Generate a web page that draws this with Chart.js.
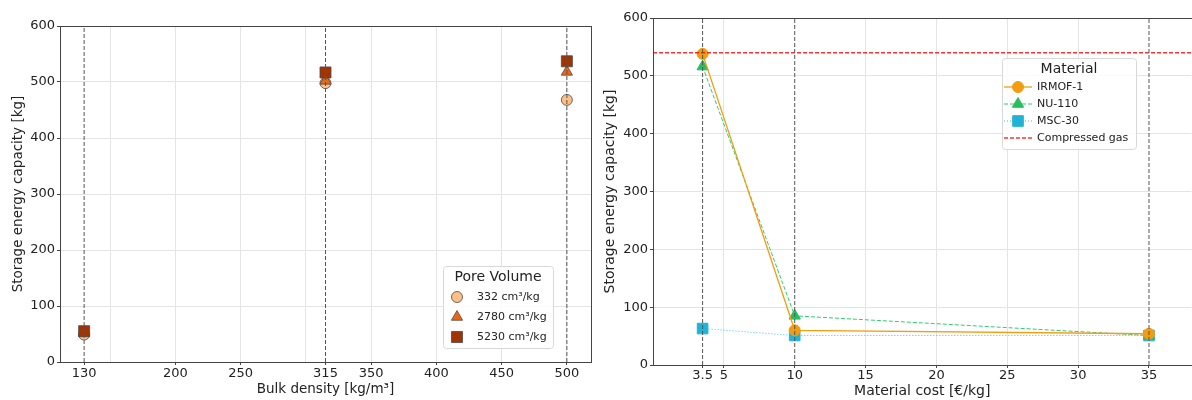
<!DOCTYPE html>
<html lang="en">
<head>
  <meta charset="UTF-8">
  <title>Storage energy capacity</title>
  <style>
    body {
      margin: 0;
      background: #ffffff;
      overflow: hidden;
      width: 1192px;
      height: 400px;
      position: relative;
    }
    canvas {
      position: absolute;
      top: 0;
    }
    #density-chart { left: 0; }
    #cost-chart { left: 596px; }
  </style>
</head>
<body>
  <canvas id="density-chart" width="600" height="400"></canvas>
  <canvas id="cost-chart" width="604" height="400"></canvas>
  <script src="https://cdn.jsdelivr.net/npm/chart.js"></script>
  <script>
    // left panel: capacity vs bulk density
    const bulkDensity = [130, 315, 500];
    const densityTicks = [130, 150, 200, 250, 300, 315, 350, 400, 450, 500];
    const hiddenDensityLabels = [150, 300];
    const poreVolumeLabels = ["332 cm³/kg", "2780 cm³/kg", "5230 cm³/kg"];
    const pv332 = [49, 498, 468];
    const pv2780 = [52, 502, 518];
    const pv5230 = [55, 517, 537];

    // right panel: capacity vs material cost
    const materialCost = [3.5, 10, 35];
    const costTicks = [3.5, 5, 10, 15, 20, 25, 30, 35];
    const irmof1 = [538, 60, 54];
    const nu110 = [516, 85, 51];
    const msc30 = [63, 51, 51];
    const compressedGas = 540;

    const capacityTicks = [0, 100, 200, 300, 400, 500, 600];

    const FONT = "'DejaVu Sans', sans-serif";
    const GRID = "#e4e4e4";
    const TEXT = "#222222";

    const toPoints = (xs, ys) => xs.map((x, i) => ({ x: x, y: ys[i] }));

    function vline(x) {
      return {
        type: "line",
        data: [{ x: x, y: 0 }, { x: x, y: 600 }],
        borderColor: "#555555",
        borderWidth: 1,
        borderDash: [4, 2],
        pointRadius: 0,
        order: 0,
      };
    }

    // axes frame (all four spines)
    const frame = {
      id: "frame",
      afterDatasetsDraw(chart) {
        const a = chart.chartArea;
        const ctx = chart.ctx;
        ctx.save();
        ctx.strokeStyle = "#444444";
        ctx.lineWidth = 1;
        ctx.strokeRect(Math.round(a.left) + 0.5, Math.round(a.top) + 0.5,
          Math.round(a.right - a.left), Math.round(a.bottom - a.top));
        ctx.restore();
      },
    };

    // matplotlib-like legend box with a title
    const legendBox = {
      id: "legendBox",
      afterDraw(chart, args, opts) {
        const ctx = chart.ctx;
        const items = chart.data.datasets.filter(d => d.legendLabel);
        ctx.save();
        ctx.beginPath();
        ctx.roundRect(opts.x + 0.5, opts.y + 0.5, opts.w, opts.h, 3);
        ctx.fillStyle = "rgba(255,255,255,0.85)";
        ctx.fill();
        ctx.strokeStyle = "#d8d8d8";
        ctx.lineWidth = 1;
        ctx.stroke();

        ctx.fillStyle = TEXT;
        ctx.textAlign = "center";
        ctx.textBaseline = "middle";
        ctx.font = "14px " + FONT;
        ctx.fillText(opts.title, opts.x + opts.w / 2, opts.y + opts.titleY);

        ctx.font = "11px " + FONT;
        items.forEach((d, i) => {
          const y = opts.y + opts.firstRow + i * opts.rowGap;
          const cx = opts.x + opts.markerX;
          if (opts.lines) {
            ctx.save();
            ctx.strokeStyle = d.borderColor;
            ctx.lineWidth = d.borderWidth;
            ctx.setLineDash(d.borderDash || []);
            ctx.beginPath();
            ctx.moveTo(cx - 14, y);
            ctx.lineTo(cx + 14, y);
            ctx.stroke();
            ctx.restore();
          }
          if (d.pointRadius) {
            ctx.fillStyle = d.pointBackgroundColor;
            ctx.strokeStyle = d.pointBorderColor;
            ctx.lineWidth = d.pointBorderWidth;
            ctx.setLineDash([]);
            Chart.helpers.drawPoint(ctx, {
              pointStyle: d.pointStyle,
              radius: d.legendRadius || d.pointRadius,
              borderWidth: d.pointBorderWidth,
              rotation: 0,
            }, cx, y);
          }
          ctx.fillStyle = TEXT;
          ctx.textAlign = "left";
          ctx.fillText(d.legendLabel, opts.x + opts.textX, y);
        });
        ctx.restore();
      },
    };

    function yAxis(width, titlePad, titleSize) {
      return {
        min: 0,
        max: 600,
        afterBuildTicks: s => { s.ticks = capacityTicks.map(v => ({ value: v })); },
        afterFit: s => { s.width = width; },
        grid: { color: GRID, tickColor: "#444444", tickLength: 3 },
        border: { display: false },
        ticks: { color: TEXT, font: { family: FONT, size: 13 }, padding: 2 },
        title: {
          display: true,
          text: "Storage energy capacity [kg]",
          color: TEXT,
          font: { family: FONT, size: titleSize },
          padding: { top: titlePad, bottom: 0 },
        },
      };
    }

    // ---------- left chart ----------
    const pointBase = { type: "scatter", pointBorderColor: "#4a4a4a", pointBorderWidth: 0.8, order: 1 };

    new Chart(document.getElementById("density-chart").getContext("2d"), {
      type: "scatter",
      data: {
        datasets: [
          vline(bulkDensity[0]),
          vline(bulkDensity[1]),
          vline(bulkDensity[2]),
          Object.assign({}, pointBase, {
            data: toPoints(bulkDensity, pv332),
            legendLabel: poreVolumeLabels[0],
            pointStyle: "circle",
            pointRadius: 5.5,
            pointBackgroundColor: "#fdbf86",
            order: 3,
          }),
          Object.assign({}, pointBase, {
            data: toPoints(bulkDensity, pv2780),
            legendLabel: poreVolumeLabels[1],
            pointStyle: "triangle",
            pointRadius: 6.5,
            pointBackgroundColor: "#ee6511",
            order: 2,
          }),
          Object.assign({}, pointBase, {
            data: toPoints(bulkDensity, pv5230),
            legendLabel: poreVolumeLabels[2],
            pointStyle: "rect",
            pointRadius: 7.8,
            pointBackgroundColor: "#a23403",
            order: 1,
          }),
        ],
      },
      options: {
        responsive: false,
        animation: false,
        events: [],
        layout: { padding: { top: 26, right: 9, bottom: 0, left: 0 } },
        scales: {
          x: {
            type: "linear",
            min: 111.5,
            max: 518.5,
            afterBuildTicks: s => { s.ticks = densityTicks.map(v => ({ value: v })); },
            afterFit: s => { s.height = 38; },
            grid: {
              color: c => (c.tick && (c.tick.value === 130 || c.tick.value === 315)) ? "rgba(0,0,0,0)" : GRID,
              tickColor: c => (c.tick && hiddenDensityLabels.includes(c.tick.value)) ? "rgba(0,0,0,0)" : "#444444",
              tickLength: 3,
            },
            border: { display: false },
            ticks: {
              color: TEXT,
              font: { family: FONT, size: 13 },
              padding: 1,
              maxRotation: 0,
              autoSkip: false,
              callback: v => hiddenDensityLabels.includes(v) ? "" : String(v),
            },
            title: {
              display: true,
              text: "Bulk density [kg/m³]",
              color: TEXT,
              font: { family: FONT, size: 13.5 },
              padding: { top: 0, bottom: 2 },
            },
          },
          y: yAxis(60, 10, 13.5),
        },
        plugins: {
          legend: { display: false },
          tooltip: { enabled: false },
          legendBox: {
            x: 443, y: 266, w: 110, h: 82,
            title: "Pore Volume", titleY: 11,
            firstRow: 31, rowGap: 20,
            markerX: 14, textX: 34, lines: false,
          },
        },
      },
      plugins: [frame, legendBox],
    });

    // ---------- right chart ----------
    new Chart(document.getElementById("cost-chart").getContext("2d"), {
      type: "scatter",
      data: {
        datasets: [
          vline(materialCost[0]),
          vline(materialCost[1]),
          vline(materialCost[2]),
          {
            type: "line",
            data: toPoints(materialCost, irmof1),
            legendLabel: "IRMOF-1",
            borderColor: "#f39c12",
            borderWidth: 1.3,
            pointStyle: "circle",
            pointRadius: 5.5,
            pointBackgroundColor: "#f39c12",
            pointBorderColor: "#f39c12",
            pointBorderWidth: 1,
            order: 1,
          },
          {
            type: "line",
            data: toPoints(materialCost, nu110),
            legendLabel: "NU-110",
            borderColor: "#2ecc71",
            borderWidth: 1,
            borderDash: [4, 2],
            pointStyle: "triangle",
            pointRadius: 6.5,
            pointBackgroundColor: "#26bf5f",
            pointBorderColor: "#26bf5f",
            pointBorderWidth: 1,
            order: 2,
          },
          {
            type: "line",
            data: toPoints(materialCost, msc30),
            legendLabel: "MSC-30",
            borderColor: "#3cc3dd",
            borderWidth: 1,
            borderDash: [1, 2],
            pointStyle: "rect",
            pointRadius: 7.5,
            pointBackgroundColor: "#20b3d6",
            pointBorderColor: "#20b3d6",
            pointBorderWidth: 1,
            order: 3,
          },
          {
            type: "line",
            data: [{ x: 0, y: compressedGas }, { x: 38, y: compressedGas }],
            legendLabel: "Compressed gas",
            borderColor: "rgba(255,0,0,0.8)",
            borderWidth: 1.4,
            borderDash: [4, 2],
            pointRadius: 0,
            order: 0,
          },
        ],
      },
      options: {
        responsive: false,
        animation: false,
        events: [],
        layout: { padding: { top: 18, right: 5, bottom: 0, left: 0 } },
        scales: {
          x: {
            type: "linear",
            min: 0,
            max: 38,
            afterBuildTicks: s => { s.ticks = costTicks.map(v => ({ value: v })); },
            afterFit: s => { s.height = 35; },
            grid: {
              color: c => (c.tick && materialCost.includes(c.tick.value)) ? "rgba(0,0,0,0)" : GRID,
              tickColor: "#444444",
              tickLength: 3,
            },
            border: { display: false },
            ticks: {
              color: TEXT,
              font: { family: FONT, size: 13 },
              padding: 0,
              maxRotation: 0,
              autoSkip: false,
              callback: v => String(v),
            },
            title: {
              display: true,
              text: "Material cost [€/kg]",
              color: TEXT,
              font: { family: FONT, size: 14 },
              padding: { top: 0, bottom: 0 },
            },
          },
          y: yAxis(57, 6, 14),
        },
        plugins: {
          legend: { display: false },
          tooltip: { enabled: false },
          legendBox: {
            x: 1002 - 596, y: 58, w: 134, h: 91,
            title: "Material", titleY: 11,
            firstRow: 29, rowGap: 17,
            markerX: 16, textX: 35, lines: true,
          },
        },
      },
      plugins: [frame, legendBox],
    });
  </script>
</body>
</html>
